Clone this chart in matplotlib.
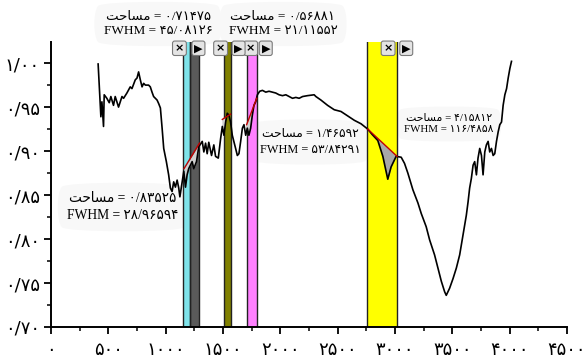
import numpy as np
import matplotlib
matplotlib.use('Agg')
import matplotlib.pyplot as plt
from matplotlib.ticker import MultipleLocator, FuncFormatter
import matplotlib.transforms as mtransforms

plt.rcParams['font.family'] = ['DejaVu Sans']

# طیف FTIR : عدد موج و عبور
wavenumber = [411, 435, 444, 458, 464, 487, 508, 522, 545, 560, 589, 619, 633, 662, 691,
              706, 735, 750, 764, 779, 794, 808, 823, 851, 866, 881, 895, 925, 939, 954,
              969, 983, 1006, 1026, 1041, 1056, 1070, 1085, 1100, 1114, 1124, 1144, 1158,
              1173, 1187, 1201, 1216, 1231, 1245, 1269, 1289, 1319, 1333, 1348, 1362, 1376,
              1400, 1420, 1435, 1459, 1479, 1494, 1508, 1523, 1537, 1551, 1566, 1581, 1595,
              1610, 1625, 1639, 1654, 1669, 1683, 1698, 1712, 1726, 1741, 1756, 1770, 1785,
              1800, 1820, 1844, 1873, 1901, 1960, 1989, 2019, 2048, 2076, 2106, 2135, 2164,
              2194, 2237, 2295, 2310, 2354, 2412, 2470, 2529, 2587, 2645, 2704, 2762, 2800,
              2850, 2894, 2937, 2966, 3010, 3054, 3083, 3112, 3156, 3200, 3229, 3272, 3302,
              3345, 3375, 3404, 3433, 3447, 3476, 3506, 3535, 3564, 3594, 3622, 3637, 3651,
              3666, 3681, 3695, 3710, 3724, 3739, 3754, 3768, 3783, 3797, 3812, 3826, 3841,
              3856, 3870, 3885, 3900, 3914, 3929, 3943, 3958, 3973, 3987, 4002, 4016]
transmittance = [0.999, 0.939, 0.956, 0.928, 0.964, 0.960, 0.955, 0.962, 0.952, 0.962, 0.950,
                 0.962, 0.960, 0.966, 0.973, 0.971, 0.981, 0.983, 0.990, 0.981, 0.973, 0.977,
                 0.975, 0.975, 0.973, 0.967, 0.962, 0.958, 0.954, 0.949, 0.926, 0.903, 0.888,
                 0.873, 0.858, 0.854, 0.865, 0.859, 0.867, 0.858, 0.848, 0.865, 0.877, 0.859,
                 0.873, 0.880, 0.884, 0.888, 0.880, 0.888, 0.905, 0.911, 0.899, 0.909, 0.897,
                 0.910, 0.895, 0.907, 0.894, 0.892, 0.914, 0.928, 0.918, 0.933, 0.943, 0.941,
                 0.933, 0.918, 0.911, 0.903, 0.895, 0.897, 0.911, 0.926, 0.930, 0.918, 0.926,
                 0.918, 0.926, 0.941, 0.952, 0.956, 0.964, 0.968, 0.969, 0.967, 0.968, 0.966,
                 0.964, 0.963, 0.964, 0.962, 0.960, 0.961, 0.960, 0.962, 0.963, 0.964, 0.962,
                 0.958, 0.952, 0.947, 0.945, 0.940, 0.935, 0.931, 0.925, 0.919, 0.912, 0.894,
                 0.868, 0.882, 0.894, 0.893, 0.886, 0.875, 0.856, 0.841, 0.829, 0.814, 0.799,
                 0.782, 0.767, 0.752, 0.740, 0.736, 0.744, 0.755, 0.767, 0.782, 0.805, 0.827,
                 0.842, 0.858, 0.869, 0.884, 0.888, 0.873, 0.892, 0.903, 0.895, 0.873, 0.899,
                 0.907, 0.911, 0.899, 0.903, 0.895, 0.897, 0.911, 0.922, 0.930, 0.933, 0.952,
                 0.964, 0.971, 0.983, 0.994, 1.002]

# نوارهای انتخاب پیک
band_left = [1155, 1216, 1505, 1706, 2756]
band_right = [1216, 1295, 1566, 1794, 3018]
band_colors = ['#7fe3ea', '#5a5a5a', '#808000', '#ff80ff', '#ffff00']

# خط پایه هر پیک (ابتدا و انتها)
base_x0 = [1160, 1494, 1706, 2762]
base_y0 = [0.880, 0.936, 0.930, 0.925]
base_x1 = [1295, 1566, 1794, 3018]
base_y1 = [0.909, 0.942, 0.960, 0.894]
fill_colors = ['#d0d0d0', '#d0d0d0', '#d0d0d0', '#a8a8a8']

# دکمه های بالای نوارها
btn_x = [1120, 1286, 1479, 1741, 1636, 1873, 2940, 3098]
btn_sym = ['×', '▶', '×', '×', '▶', '▶', '×', '▶']

area_word = '\uFE96\uFEA3\uFE8E\uFEB4\uFEE3'
areas = ['۰/۷۱۴۷۵', '۰/۵۶۸۸۱', '۴/۱۵۸۱۲', '۱/۴۶۵۹۲', '۰/۸۳۵۲۵']
fwhms = ['۴۵/۰۸۱۲۶', '۲۱/۱۱۵۵۲', '۱۱۶/۴۸۵۸', '۵۳/۸۴۲۹۱', '۲۸/۹۶۵۹۴']
label_px = [(158, 24), (283, 24), (449, 124), (310, 142), (123, 207)]
label_size = [9.5, 9.5, 7.8, 8.8, 9.8]
label_space = [1.2, 1.2, 1.25, 1.45, 1.35]

fa_digits = str.maketrans('0123456789', '۰۱۲۳۴۵۶۷۸۹')


def fa_y(v, pos):
    return f'{v:.2f}'.replace('.', '/').translate(fa_digits)


def fa_x(v, pos):
    return f'{v:.0f}'.translate(fa_digits)


W, H = 587, 361
fig = plt.figure(figsize=(W / 100, H / 100), dpi=100)
ax = fig.add_axes([51 / W, 1 - 327 / H, 516 / W, 285 / H])

for l, r, c in zip(band_left, band_right, band_colors):
    ax.axvspan(l, r, color=c, zorder=1, lw=0)
    ax.axvline(l, color='#222', lw=1, zorder=2)
    ax.axvline(r, color='#222', lw=1, zorder=2)

x = np.array(wavenumber)
y = np.array(transmittance)
for x0, y0, x1, y1, fc in zip(base_x0, base_y0, base_x1, base_y1, fill_colors):
    m = (x >= x0) & (x <= x1)
    xs = np.concatenate([[x0], x[m], [x1]])
    ys = np.concatenate([[y0], y[m], [y1]])
    bl = np.interp(xs, [x0, x1], [y0, y1])
    ax.fill_between(xs, ys, bl, where=ys <= bl + 1e-9, color=fc, zorder=3, lw=0)
    ax.plot([x0, x1], [y0, y1], color='#c00000', lw=1, zorder=5)

ax.plot(wavenumber, transmittance, color='black', lw=1.2, zorder=4)

ax.set_xlim(0, 4500)
ax.set_ylim(0.70, 1.024)
ax.xaxis.set_major_locator(MultipleLocator(500))
ax.xaxis.set_minor_locator(MultipleLocator(250))
ax.yaxis.set_major_locator(MultipleLocator(0.05))
ax.yaxis.set_minor_locator(MultipleLocator(0.025))
ax.xaxis.set_major_formatter(FuncFormatter(fa_x))
ax.yaxis.set_major_formatter(FuncFormatter(fa_y))
ax.tick_params(which='major', direction='out', length=5, width=1.3, labelsize=13, pad=3)
ax.tick_params(which='minor', direction='out', length=3, width=1.1)
ax.tick_params(axis='x', pad=5)
for s in ['top', 'right']:
    ax.spines[s].set_visible(False)
for s in ['left', 'bottom']:
    ax.spines[s].set_linewidth(1.4)

trans = mtransforms.blended_transform_factory(ax.transData, ax.transAxes)
for bx, sym in zip(btn_x, btn_sym):
    ax.text(bx, 0.978, sym, transform=trans, ha='center', va='center', fontsize=8,
            fontweight='bold', zorder=6,
            bbox=dict(boxstyle='round,pad=0.2', fc='#e4e4e4', ec='#7a7a7a', lw=0.8))

# برچسب های مساحت و FWHM زیر منحنی
for a, f, (px, py), fs, ls in zip(areas, fwhms, label_px, label_size, label_space):
    ax.text(px / W, 1 - py / H, f'{area_word} = {a}\nFWHM = {f}', transform=fig.transFigure,
            ha='center', va='center', fontsize=fs, family=['Liberation Serif', 'DejaVu Sans'],
            linespacing=ls, zorder=0.5, clip_on=False,
            bbox=dict(boxstyle='round4,pad=0.8', fc='#f8f8f8', ec='none'))

fig.savefig('out.png', dpi=100)
